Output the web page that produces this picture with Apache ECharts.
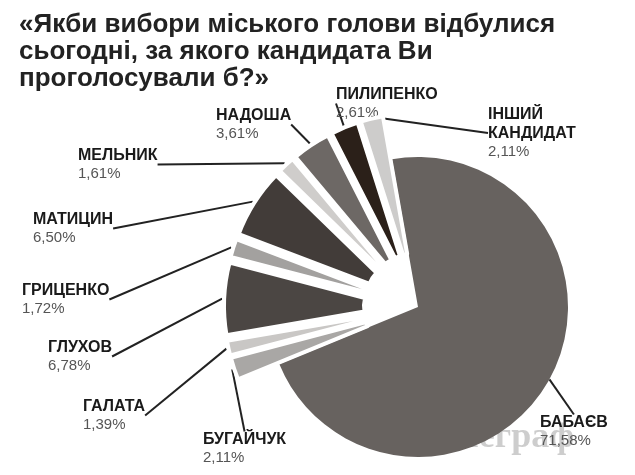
<!DOCTYPE html>
<html><head><meta charset="utf-8">
<script src="https://cdn.jsdelivr.net/npm/echarts@6/dist/echarts.min.js"></script>
<style>html,body{margin:0;background:#fff}#c{width:635px;height:475px}</style>
</head><body><div id="c"></div>
<script>
var names = ['БАБАЄВ', 'БУГАЙЧУК', 'ГАЛАТА', 'ГЛУХОВ', 'ГРИЦЕНКО', 'МАТИЦИН', 'МЕЛЬНИК', 'НАДОША', 'ПИЛИПЕНКО', 'ІНШИЙ\nКАНДИДАТ'];
var values = [71.58, 2.11, 1.39, 6.78, 1.72, 6.50, 1.61, 3.61, 2.61, 2.11];
var colors = ['#67625f', '#a9a7a5', '#c9c7c5', '#4b4643', '#a3a19f', '#423c39', '#cfcdcb', '#6d6865', '#2b2019', '#cdcccb'];
// label anchor spots (left edge, top) for each slice
var labelX = [540, 203, 83, 48, 22, 33, 78, 216, 336, 488];
var labelY = [413, 430, 397, 338, 281, 210, 146, 106, 85, 105];

var myChart = echarts.init(document.getElementById('c'));

function fmt(v) { return v.toFixed(2).replace('.', ',') + '%'; }

var labelOpt = {
    formatter: function (p) { return '{n|' + p.name + '}\n{v|' + fmt(p.value) + '}'; },
    overflow: 'none',
    rich: {
        n: {fontFamily: 'Liberation Sans Narrow, Arial', fontWeight: 'bold', fontSize: 16, color: '#1a1a1a', lineHeight: 19},
        v: {fontFamily: 'Liberation Sans Narrow, Arial', fontSize: 15, color: '#555', lineHeight: 18}
    },
    align: 'left'
};
var layout = function (p) {
    var i = p.dataIndex;
    return {x: labelX[i], y: labelY[i], align: 'left', verticalAlign: 'top'};
};
var line = {show: true, length: 14, length2: 0, lineStyle: {color: '#222', width: 2}};
var off = {show: false};

var bigData = values.map(function (v, i) {
    return i === 0
        ? {value: v, name: names[i], itemStyle: {color: colors[i]}}
        : {value: v, name: names[i], itemStyle: {color: 'transparent'}, label: off, labelLine: off};
});
var smallData = values.map(function (v, i) {
    return i === 0
        ? {value: v, name: names[i], itemStyle: {color: 'transparent', borderWidth: 0}}
        : {value: v, name: names[i], selected: true, itemStyle: {color: colors[i]}};
});
var labelData = values.map(function (v, i) {
    return i === 0
        ? {value: v, name: names[i], label: off, labelLine: off}
        : {value: v, name: names[i]};
});

var option = {
    animation: false,
    title: {
        text: '«Якби вибори міського голови відбулися\nсьогодні, за якого кандидата Ви\nпроголосували б?»',
        left: 14, top: 6,
        textStyle: {fontFamily: 'Liberation Sans Narrow, Arial', fontWeight: 'bold', fontSize: 26, lineHeight: 27, color: '#222'}
    },
    graphic: [{
        type: 'text', left: 420, top: 420, z: 0,
        style: {text: 'Телеграф', fontFamily: 'Liberation Serif', fontWeight: 'bold', fontSize: 36, fill: 'rgba(90,90,90,0.3)'}
    }],
    series: [{
        type: 'pie',
        center: [418, 307],
        radius: [0, 150],
        startAngle: 100,
        clockwise: true,
        silent: true,
        data: bigData,
        label: labelOpt,
        labelLine: line,
        labelLayout: layout
    }, {
        type: 'pie',
        center: [418, 307],
        radius: [32, 172],
        startAngle: 100,
        clockwise: true,
        silent: true,
        selectedMode: 'multiple',
        selectedOffset: 22,
        data: smallData,
        itemStyle: {borderColor: '#fff', borderWidth: 4},
        label: off,
        labelLine: off
    }, {
        // invisible ring that only carries the labels of the small slices
        type: 'pie',
        center: [418, 307],
        radius: [0, 196],
        startAngle: 100,
        clockwise: true,
        silent: true,
        data: labelData,
        itemStyle: {color: 'transparent'},
        label: labelOpt,
        labelLine: line,
        labelLayout: layout
    }]
};
myChart.setOption(option);
</script></body></html>
